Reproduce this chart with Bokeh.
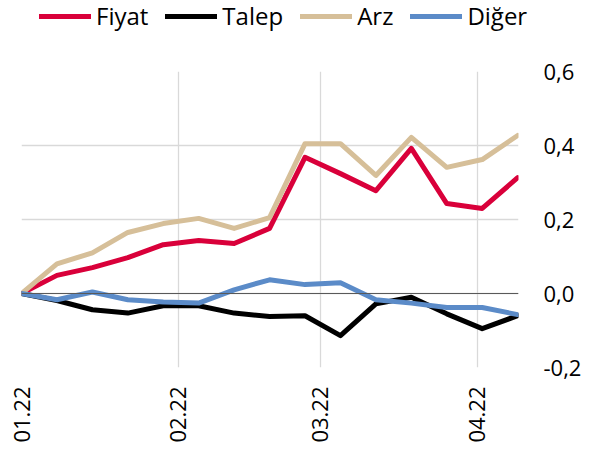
import datetime as dt
from bokeh.plotting import figure
from bokeh.layouts import column
from bokeh.models import (ColumnDataSource, Legend, LegendItem, Span, FixedTicker,
                          MonthsTicker, DatetimeTickFormatter, CustomJSTickFormatter,
                          Range1d)
from bokeh.embed import file_html
from bokeh.resources import INLINE

start = dt.datetime(2022, 1, 1)
dates = [start + dt.timedelta(days=7 * i) for i in range(15)]

fiyat = [0.0, 0.049, 0.070, 0.097, 0.132, 0.143, 0.135, 0.176, 0.368, 0.324, 0.278, 0.392, 0.243, 0.230, 0.313]
talep = [0.0, -0.019, -0.044, -0.053, -0.033, -0.033, -0.053, -0.062, -0.060, -0.114, -0.028, -0.010, -0.055, -0.095, -0.060]
arz = [0.0, 0.080, 0.110, 0.165, 0.189, 0.203, 0.176, 0.205, 0.405, 0.405, 0.319, 0.422, 0.341, 0.362, 0.427]
diger = [0.0, -0.017, 0.004, -0.017, -0.023, -0.026, 0.010, 0.037, 0.024, 0.029, -0.017, -0.026, -0.038, -0.038, -0.057]

series_names = ["Fiyat", "Talep", "Arz", "Diğer"]
series_values = [fiyat, talep, arz, diger]
series_colors = ["#D9003A", "#000000", "#D6BF99", "#5B8BC8"]
y_ticks = [-0.2, 0.0, 0.2, 0.4, 0.6]

FONT = "Open Sans"
FS = "22px"

# ---------- main chart ----------
p = figure(frame_width=497, frame_height=296, x_axis_type="datetime",
           output_backend="svg", toolbar_location=None,
           min_border_left=21, min_border_top=21, min_border_right=69, min_border_bottom=80,
           y_range=Range1d(-0.2, 0.6),
           x_range=Range1d(dates[0], dates[-1] + dt.timedelta(hours=4)),
           y_axis_location="right")
p.outline_line_color = None
p.background_fill_color = "white"
p.border_fill_color = "white"

p.xgrid.ticker = MonthsTicker(months=list(range(12)))
p.ygrid.ticker = FixedTicker(ticks=y_ticks)
p.xgrid.grid_line_color = "#D9D9D9"
p.ygrid.grid_line_color = "#D9D9D9"
p.xgrid.grid_line_width = 1.3
p.ygrid.grid_line_width = 1.3

p.add_layout(Span(location=0, dimension="width", line_color="#595959", line_width=1))

for name, vals, col in zip(series_names, series_values, series_colors):
    src = ColumnDataSource(dict(x=dates, y=vals))
    p.line("x", "y", source=src, line_color=col, line_width=5,
           line_join="round", line_cap="round")

xa = p.xaxis[0]
xa.ticker = MonthsTicker(months=list(range(12)))
fmt = "%m.%y"
xa.formatter = DatetimeTickFormatter(months=fmt, days=fmt, years=fmt, hours=fmt, minutes=fmt,
                                     seconds=fmt, milliseconds=fmt, minsec=fmt, hourmin=fmt)
xa.major_label_orientation = 1.5707963
xa.axis_line_color = None
xa.major_tick_line_color = None
xa.minor_tick_line_color = None
xa.major_tick_out = 0
xa.major_tick_in = 0
xa.major_label_standoff = 19
xa.major_label_text_font = FONT
xa.major_label_text_font_size = FS
xa.major_label_text_color = "#000000"

ya = p.yaxis[0]
ya.ticker = FixedTicker(ticks=y_ticks)
ya.formatter = CustomJSTickFormatter(code="return tick.toFixed(1).replace('.', ',');")
ya.axis_line_color = None
ya.major_tick_line_color = None
ya.minor_tick_line_color = None
ya.major_tick_out = 0
ya.major_tick_in = 0
ya.major_label_standoff = 25
ya.major_label_text_font = FONT
ya.major_label_text_font_size = FS
ya.major_label_text_color = "#000000"

# ---------- legend strip ----------
pl = figure(width=587, height=50, output_backend="svg", toolbar_location=None,
            min_border=0, x_range=Range1d(0, 1), y_range=Range1d(0, 1),
            x_axis_location=None, y_axis_location=None)
pl.outline_line_color = None
pl.grid.visible = False
for fig in (p, pl):
    try:
        fig.frame_align = False
    except Exception:
        pass

leg_renderers = []
for name, col in zip(series_names, series_colors):
    # placed outside the visible range: only its legend glyph is seen
    r = pl.line(x=[5, 6], y=[5, 6], line_color=col, line_width=5, line_cap="round")
    leg_renderers.append(r)

legend = Legend(items=[LegendItem(label=n, renderers=[r]) for n, r in zip(series_names, leg_renderers)],
                orientation="horizontal", location=(39, 18),
                label_text_font=FONT, label_text_font_size="24px", label_text_color="#000000",
                glyph_width=52, glyph_height=24, label_height=24, label_standoff=5,
                spacing=17, padding=0, margin=0,
                border_line_color=None, background_fill_alpha=0)
pl.add_layout(legend, "center")

layout = column(pl, p, spacing=0)
open("out.html", "w").write(file_html(layout, INLINE))
